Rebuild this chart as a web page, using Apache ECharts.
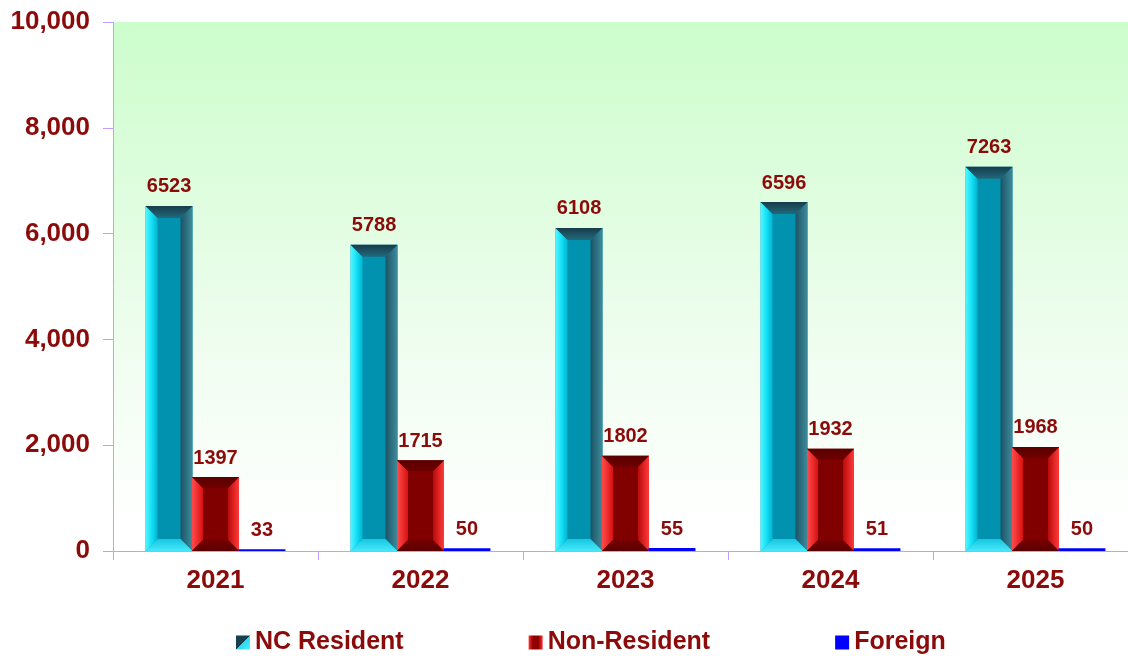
<!DOCTYPE html>
<html>
<head>
<meta charset="utf-8">
<script src="https://cdn.jsdelivr.net/npm/echarts@6/dist/echarts.min.js"></script>
<style>
  html, body { margin: 0; padding: 0; background: #fff; }
  #chart { width: 1128px; height: 656px; }
</style>
</head>
<body>
<div id="chart"></div>
<script>
// data
var years = ['2021', '2022', '2023', '2024', '2025'];
var ncResident = [6523, 5788, 6108, 6596, 7263];
var nonResident = [1397, 1715, 1802, 1932, 1968];
var foreign = [33, 50, 55, 51, 50];
var yTicks = [0, 2000, 4000, 6000, 8000, 10000];

var textRed = '#8b0a0a';
var axisPurple = '#c89cff';
var fontFam = 'Liberation Sans, Arial, sans-serif';

function grad(x2, y2, stops) {
  return new echarts.graphic.LinearGradient(0, 0, x2, y2, stops.map(function (s) {
    return { offset: s[0], color: s[1] };
  }));
}

// bevel looks for the bars
var looks = [
  {
    bevel: 12,
    face: '#0092ae',
    left: grad(1, 0, [[0, '#55f6ff'], [0.5, '#14e0f6'], [1, '#00b4d0']]),
    right: grad(1, 0, [[0, '#1b5466'], [1, '#3f8c9c']]),
    top: grad(0, 1, [[0, '#173c4a'], [1, '#21697c']]),
    bottom: grad(0, 1, [[0, '#16c6e0'], [1, '#48e8fb']])
  },
  {
    bevel: 11,
    face: '#800000',
    left: grad(1, 0, [[0, '#ff4c4c'], [1, '#d81010']]),
    right: grad(1, 0, [[0, '#b80a0a'], [1, '#ff3a3a']]),
    top: grad(0, 1, [[0, '#5a0000'], [1, '#700000']]),
    bottom: grad(0, 1, [[0, '#780000'], [1, '#5a0000']])
  },
  { bevel: 0, face: '#0000ff' }
];

function barRender(si) {
  var look = looks[si];
  return function (params, api) {
    var idx = api.value(0);
    var val = api.value(1);
    var topPt = api.coord([idx, val]);
    var basePt = api.coord([idx, 0]);
    var band = api.size([1, 0])[0];
    var w = band * 0.229;
    var cx = topPt[0] + (si - 1) * w * 0.99;
    var x0 = cx - w / 2, x1 = cx + w / 2;
    var y0 = topPt[1], y1 = basePt[1];
    var h = y1 - y0;
    var b = Math.min(look.bevel, h / 2, w / 2);
    var kids = [];
    kids.push({ type: 'rect', shape: { x: x0, y: y0, width: w, height: h }, style: { fill: look.face } });
    if (b > 0) {
      kids.push({ type: 'polygon', shape: { points: [[x0, y0], [x0 + b, y0 + b], [x0 + b, y1 - b], [x0, y1]] }, style: { fill: look.left } });
      kids.push({ type: 'polygon', shape: { points: [[x1, y0], [x1 - b, y0 + b], [x1 - b, y1 - b], [x1, y1]] }, style: { fill: look.right } });
      kids.push({ type: 'polygon', shape: { points: [[x0, y0], [x1, y0], [x1 - b, y0 + b], [x0 + b, y0 + b]] }, style: { fill: look.top } });
      kids.push({ type: 'polygon', shape: { points: [[x0, y1], [x1, y1], [x1 - b, y1 - b], [x0 + b, y1 - b]] }, style: { fill: look.bottom } });
    }
    kids.push({
      type: 'text',
      style: {
        text: String(val),
        x: cx, y: y0 - 9,
        align: 'center', verticalAlign: 'bottom',
        fill: textRed,
        fontFamily: fontFam, fontWeight: 'bold', fontSize: 20
      }
    });
    return { type: 'group', children: kids };
  };
}

function pairs(arr) {
  return arr.map(function (v, i) { return [i, v]; });
}

var chart = echarts.init(document.getElementById('chart'));

var option = {
  animation: false,
  textStyle: { fontFamily: fontFam },
  grid: {
    left: 113,
    top: 22,
    width: 1025,
    bottom: 105,
    outerBoundsMode: 'none',
    show: true,
    borderWidth: 0,
    backgroundColor: grad(0, 1, [[0, '#ccfdcc'], [0.55, '#ecfdec'], [0.95, '#ffffff']])
  },
  legend: {
    left: 231,
    top: 625,
    itemWidth: 14,
    itemHeight: 14,
    itemGap: 125,
    icon: 'rect',
    textStyle: {
      color: textRed,
      fontWeight: 'bold',
      fontSize: 25,
      fontFamily: fontFam
    },
    data: ['NC Resident', 'Non-Resident', 'Foreign']
  },
  xAxis: {
    type: 'category',
    data: years,
    axisLine: { lineStyle: { color: axisPurple, width: 1 } },
    axisTick: { show: true, length: 9, lineStyle: { color: axisPurple } },
    axisLabel: {
      margin: 17,
      color: textRed,
      fontWeight: 'bold',
      fontSize: 26
    }
  },
  yAxis: {
    type: 'value',
    min: 0,
    max: 10000,
    interval: 2000,
    axisLine: { show: true, lineStyle: { color: axisPurple, width: 1 } },
    axisTick: { show: true, length: 10, lineStyle: { color: axisPurple } },
    splitLine: { show: false },
    axisLabel: {
      margin: 23,
      color: textRed,
      fontWeight: 'bold',
      fontSize: 26,
      formatter: function (v) {
        return yTicks.indexOf(v) >= 0 ? v.toLocaleString('en-US') : '';
      }
    }
  },
  series: [
    {
      name: 'NC Resident',
      type: 'custom',
      renderItem: barRender(0),
      encode: { x: 0, y: 1 },
      data: pairs(ncResident),
      itemStyle: { color: grad(1, 1, [[0, '#163e4c'], [0.5, '#163e4c'], [0.5, '#28d8f0'], [1, '#50f0ff']]) }
    },
    {
      name: 'Non-Resident',
      type: 'custom',
      renderItem: barRender(1),
      encode: { x: 0, y: 1 },
      data: pairs(nonResident),
      itemStyle: { color: grad(1, 0, [[0, '#ff3030'], [0.3, '#900000'], [0.7, '#900000'], [1, '#ff3030']]) }
    },
    {
      name: 'Foreign',
      type: 'custom',
      renderItem: barRender(2),
      encode: { x: 0, y: 1 },
      data: pairs(foreign),
      itemStyle: { color: '#0000ff' }
    }
  ]
};

chart.setOption(option);
</script>
</body>
</html>
